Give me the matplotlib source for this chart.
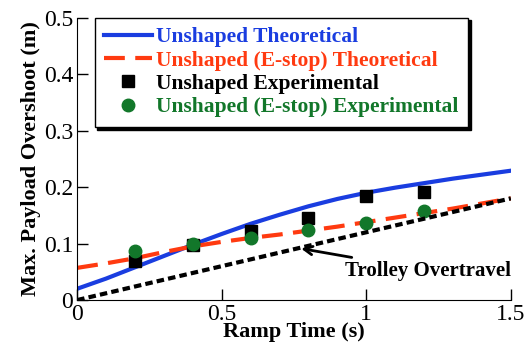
import matplotlib
matplotlib.use("Agg")
import matplotlib.pyplot as plt

plt.rcParams['font.family'] = ['Liberation Serif', 'DejaVu Serif']

# theoretical curves
t_theory = [0, 0.1, 0.2, 0.3, 0.4, 0.5, 0.6, 0.7, 0.8, 0.9, 1.0, 1.1, 1.2, 1.3, 1.4, 1.5]
unshaped_theory = [0.020, 0.038, 0.058, 0.078, 0.098, 0.117, 0.135, 0.151, 0.166, 0.179, 0.190, 0.199, 0.207, 0.215, 0.222, 0.229]
estop_theory = [0.057, 0.065, 0.074, 0.085, 0.095, 0.103, 0.110, 0.116, 0.123, 0.130, 0.138, 0.146, 0.154, 0.162, 0.171, 0.180]

# experiments
t_exp = [0.2, 0.4, 0.6, 0.8, 1.0, 1.2]
unshaped_exp = [0.070, 0.097, 0.123, 0.146, 0.185, 0.192]
estop_exp = [0.087, 0.099, 0.110, 0.124, 0.136, 0.158]

# trolley overtravel
t_travel = [0, 1.5]
overtravel = [0, 0.18]

fig, ax = plt.subplots(figsize=(5.25, 3.53), dpi=100)
fig.subplots_adjust(left=0.147, right=0.973, top=0.95, bottom=0.15)

ax.plot(t_theory, unshaped_theory, color='#1a3de0', lw=3, label='Unshaped Theoretical')
ax.plot(t_theory, estop_theory, color='#ff3a10', lw=3, dashes=(5, 2.5), label='Unshaped (E-stop) Theoretical')
ax.plot(t_exp, unshaped_exp, 's', color='black', ms=9, label='Unshaped Experimental')
ax.plot(t_exp, estop_exp, 'o', color='#12772a', ms=9, label='Unshaped (E-stop) Experimental')
ax.plot(t_travel, overtravel, color='black', lw=3, dashes=(1.8, 1.0))

ax.annotate('Trolley Overtravel', xy=(0.765, 0.092), xytext=(0.925, 0.052),
            fontsize=15, fontweight='bold', va='center',
            arrowprops=dict(arrowstyle='->', color='black', lw=2))

ax.set_xlim(0, 1.5)
ax.set_ylim(0, 0.5)
ax.set_xticks([0, 0.5, 1, 1.5])
ax.set_xticklabels(['0', '0.5', '1', '1.5'])
ax.set_yticks([0, 0.1, 0.2, 0.3, 0.4, 0.5])
ax.set_yticklabels(['0', '0.1', '0.2', '0.3', '0.4', '0.5'])
ax.tick_params(direction='in', length=8, width=1, labelsize=17, pad=3)
ax.spines['top'].set_visible(False)
ax.spines['right'].set_visible(False)
ax.set_xlabel('Ramp Time (s)', fontsize=16, fontweight='bold', labelpad=-2)
ax.set_ylabel('Max. Payload Overshoot (m)', fontsize=16, fontweight='bold', labelpad=2)

leg = ax.legend(loc='upper left', bbox_to_anchor=(0.04, 1.0), fontsize=15.5,
                prop={'weight': 'bold', 'size': 15.5}, frameon=True, fancybox=False,
                shadow={'color': 'black', 'alpha': 1.0}, edgecolor='black', handlelength=2.2,
                borderpad=0.45, labelspacing=0.15, handletextpad=0.2, borderaxespad=0.0)
for text, line in zip(leg.get_texts(), leg.get_lines()):
    text.set_color(line.get_color())

plt.savefig('out.png')
